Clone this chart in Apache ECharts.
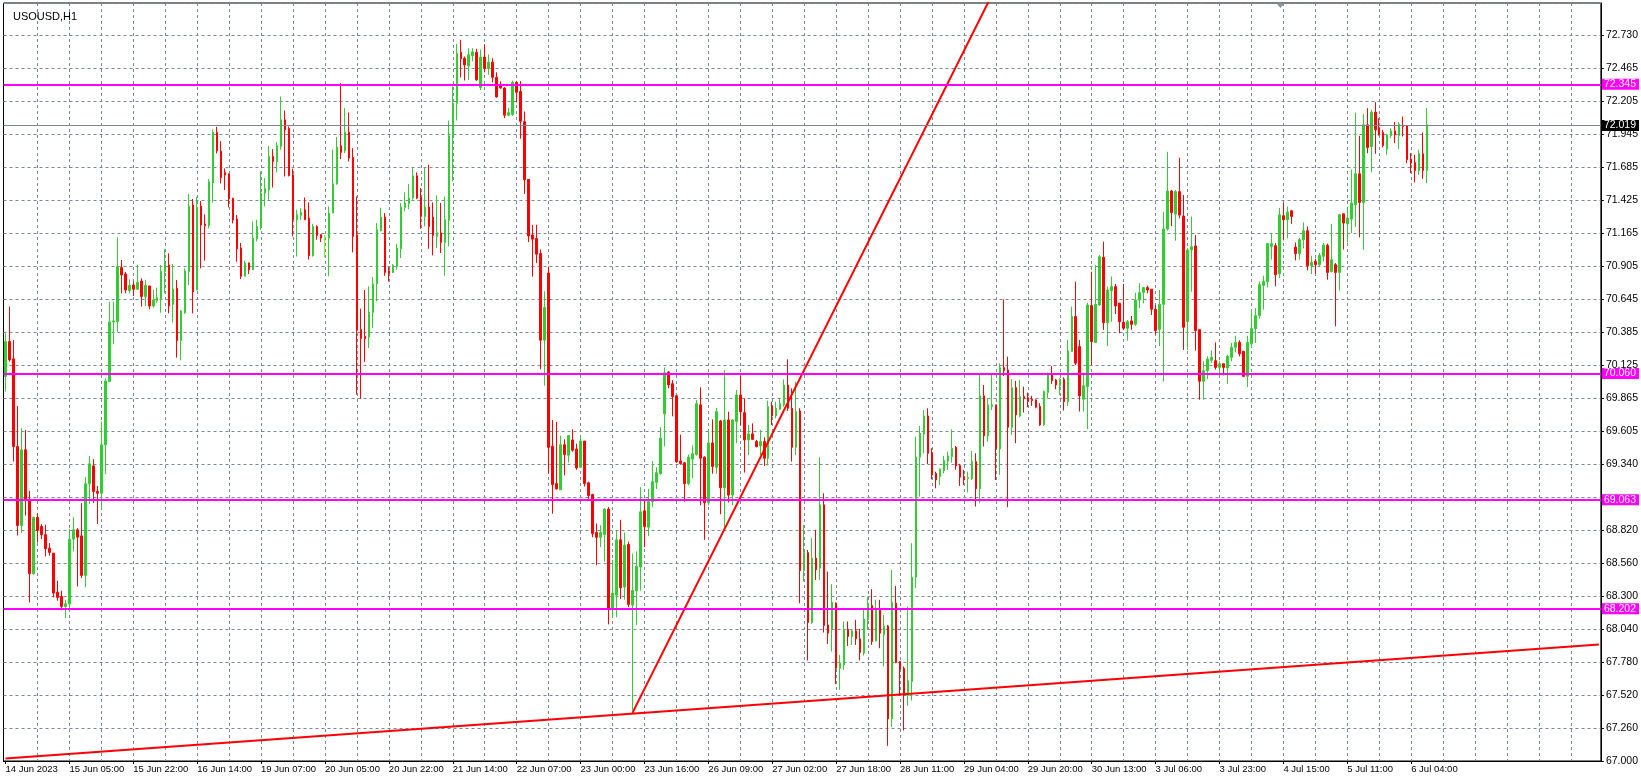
<!DOCTYPE html>
<html><head><meta charset="utf-8">
<script src="https://cdn.jsdelivr.net/npm/echarts@6/dist/echarts.min.js"></script>
<style>html,body{margin:0;padding:0;background:#fff}#c{width:1641px;height:781px}</style>
</head><body><div id="c"></div>
<script>
// ---- data ----
const timeLabels = ['14 Jun 2023','15 Jun 05:00','15 Jun 22:00','16 Jun 14:00','19 Jun 07:00','20 Jun 05:00','20 Jun 22:00','21 Jun 14:00','22 Jun 07:00','23 Jun 00:00','23 Jun 16:00','26 Jun 09:00','27 Jun 02:00','27 Jun 18:00','28 Jun 11:00','29 Jun 04:00','29 Jun 20:00','30 Jun 13:00','3 Jul 06:00','3 Jul 23:00','4 Jul 15:00','5 Jul 11:00','6 Jul 04:00'];
const yTickLabels = ['67.000','67.260','67.520','67.780','68.040','68.300','68.560','68.820','69.080','69.340','69.605','69.865','70.125','70.385','70.645','70.905','71.165','71.425','71.685','71.945','72.205','72.465','72.730'];

const opens = [70.036,70.313,70.176,69.484,68.860,69.458,69.063,68.479,68.923,68.852,
68.787,68.681,68.642,68.334,68.300,68.221,68.242,68.752,68.826,68.778,
68.466,69.189,69.331,69.129,69.115,69.497,69.997,70.468,70.470,70.897,
70.847,70.715,70.760,70.726,70.791,70.668,70.752,70.594,70.636,70.652,
70.865,70.918,70.607,70.734,70.320,70.541,70.865,71.391,70.720,71.383,
71.241,71.228,71.567,71.965,71.817,71.649,71.636,71.444,71.281,71.051,
70.828,70.933,70.880,71.125,71.214,71.486,71.512,71.775,71.735,71.854,
72.064,71.996,71.630,71.275,71.310,71.354,71.288,70.991,71.222,71.157,
71.133,71.130,71.328,71.559,71.859,71.820,71.967,71.767,71.157,70.407,
70.354,70.349,70.544,70.770,71.188,71.296,70.872,70.859,70.907,71.046,
71.372,71.404,71.446,71.622,71.454,71.301,71.375,71.296,71.144,71.170,
71.096,71.270,71.938,72.196,72.598,72.551,72.490,72.572,72.598,72.320,
72.560,72.470,72.520,72.400,72.345,72.316,72.101,72.107,72.359,72.288,
72.050,71.594,71.155,71.127,71.009,70.324,70.854,69.487,69.191,69.142,
69.498,69.415,69.535,69.464,69.320,69.527,69.197,69.105,68.804,68.767,
68.790,68.990,68.202,68.310,68.747,68.374,68.710,68.231,68.346,68.532,
68.976,68.847,69.048,69.200,69.269,69.742,70.072,69.980,69.885,69.369,
69.355,69.191,69.384,69.421,69.813,69.400,69.042,69.512,69.320,69.686,
69.159,69.694,69.100,69.680,69.891,69.751,69.536,69.583,69.523,69.488,
69.523,69.391,69.804,69.725,69.778,69.812,69.970,69.786,69.478,69.765,
68.504,68.646,68.094,68.602,68.523,69.023,68.075,68.041,68.246,67.733,
67.760,68.041,67.983,68.028,67.965,67.852,68.115,68.228,67.949,68.199,
67.996,68.067,67.333,68.246,67.786,67.733,67.518,67.628,68.452,69.399,
69.583,69.725,69.436,69.272,69.246,69.294,69.368,69.404,69.478,69.334,
69.247,69.230,69.230,69.365,69.150,69.884,69.568,69.800,69.813,69.465,
70.107,70.089,69.636,69.949,69.726,69.878,69.870,69.857,69.852,69.800,
69.655,69.910,70.057,70.010,69.963,70.015,69.839,70.234,70.510,70.273,
69.858,69.957,70.597,70.305,70.602,70.978,70.462,70.715,70.747,70.615,
70.465,70.418,70.476,70.449,70.641,70.702,70.739,70.726,70.568,70.410,
70.607,71.202,71.502,71.320,71.497,71.304,70.470,71.036,71.068,70.407,
69.999,70.083,70.165,70.162,70.109,70.138,70.104,70.188,70.267,70.307,
70.236,70.038,70.296,70.415,70.517,70.757,70.786,71.065,71.070,70.849,
71.307,71.275,71.346,71.059,71.007,71.117,71.188,70.912,70.946,70.920,
70.986,71.073,70.867,70.920,70.859,71.322,71.243,71.280,71.394,71.638,
71.412,72.025,71.854,72.125,72.004,71.964,71.833,71.940,71.977,71.940,
72.020,72.017,71.754,71.728,71.664,71.796,71.664];

const highs = [70.378,70.589,70.326,69.805,69.629,69.615,69.134,68.931,68.958,68.871,
68.866,68.721,68.642,68.423,68.345,68.273,68.831,68.926,68.839,69.037,
69.242,69.410,69.384,69.173,69.681,70.023,70.628,70.628,71.136,70.957,
70.862,70.804,70.786,70.918,70.812,70.799,70.752,70.720,70.739,70.918,
71.041,71.010,70.926,70.799,70.562,70.891,71.478,71.439,71.457,71.423,
71.318,71.596,71.988,72.009,71.896,71.680,71.641,71.449,71.312,71.091,
70.951,70.938,71.262,71.275,71.657,71.604,71.859,71.833,71.888,72.249,
72.138,72.012,71.678,71.354,71.367,71.451,71.412,71.243,71.230,71.162,
71.157,71.380,71.828,71.928,72.354,72.156,72.122,71.840,71.459,70.573,
70.720,70.749,70.822,71.249,71.370,71.328,70.901,70.925,71.085,71.407,
71.491,71.557,71.683,71.649,71.525,71.683,71.709,71.412,71.467,71.407,
71.459,72.059,72.328,72.664,72.696,72.564,72.630,72.630,72.625,72.620,
72.660,72.580,72.550,72.440,72.368,72.322,72.159,72.374,72.370,72.370,
72.130,71.594,71.235,71.235,71.040,70.711,70.906,69.693,69.679,69.570,
69.541,69.570,69.621,69.507,69.564,69.527,69.206,69.111,68.876,68.862,
68.996,69.005,68.589,68.819,68.905,68.804,68.733,68.638,68.655,69.163,
69.062,69.148,69.369,69.320,69.636,70.109,70.080,70.008,69.885,69.578,
69.363,69.420,69.492,69.850,69.951,69.406,69.621,69.699,69.788,69.694,
70.088,69.759,69.700,69.930,70.041,69.865,69.654,69.667,69.536,69.615,
69.557,69.846,69.838,69.838,69.865,70.014,70.172,69.943,69.996,69.786,
68.865,68.667,68.760,68.825,69.399,69.115,68.496,68.396,68.252,67.838,
68.102,68.102,68.036,68.115,68.044,68.207,68.294,68.357,68.273,68.273,
68.154,68.075,68.510,68.383,67.786,67.747,68.220,68.720,69.562,69.646,
69.772,69.786,69.470,69.285,69.312,69.410,69.444,69.620,69.488,69.347,
69.300,69.286,69.450,69.431,70.049,69.970,69.865,70.062,69.813,70.141,
70.647,70.194,70.015,70.002,70.010,69.957,69.910,69.884,69.857,69.826,
69.926,70.068,70.120,70.018,70.023,70.031,70.326,70.589,70.786,70.326,
70.062,70.620,70.865,70.918,70.997,71.102,70.747,70.826,70.768,70.620,
70.768,70.483,70.515,70.699,70.773,70.742,70.755,70.726,70.602,70.720,
71.339,71.812,71.510,71.510,71.765,71.470,71.050,71.300,71.154,70.407,
70.157,70.196,70.243,70.307,70.157,70.138,70.209,70.302,70.359,70.323,
70.236,70.359,70.559,70.577,70.788,70.833,71.091,71.170,71.091,71.367,
71.407,71.380,71.346,71.096,71.130,71.254,71.222,70.991,70.967,71.012,
71.091,71.086,71.243,70.933,71.322,71.322,71.375,71.670,72.122,71.938,
72.112,72.156,72.143,72.204,72.077,71.985,71.951,71.998,72.046,72.046,
72.090,72.017,71.801,71.788,71.828,71.964,72.156];

const lows = [69.918,70.155,69.365,68.781,68.800,68.939,68.253,68.471,68.726,68.753,
68.616,68.621,68.292,68.266,68.190,68.129,68.195,68.655,68.379,68.445,
68.373,69.031,69.037,68.873,68.992,69.265,69.997,70.292,70.391,70.694,
70.694,70.694,70.673,70.720,70.589,70.594,70.568,70.581,70.620,70.541,
70.694,70.536,70.462,70.186,70.165,70.531,70.760,70.536,70.720,70.891,
70.952,71.207,71.410,71.799,71.562,71.510,71.373,71.246,70.944,70.807,
70.828,70.846,70.880,71.104,71.196,71.380,71.433,71.530,71.649,71.828,
71.617,71.617,71.144,70.985,71.275,71.275,70.960,70.985,71.117,71.099,
70.978,70.828,71.328,71.551,71.754,71.801,71.735,71.017,69.894,69.860,
70.152,70.262,70.420,70.630,71.183,70.833,70.788,70.854,70.880,70.972,
71.341,71.359,71.433,71.438,71.204,71.222,71.046,70.994,71.051,71.012,
70.833,71.064,71.578,72.059,72.399,72.375,72.380,72.525,72.372,72.300,
72.440,72.420,72.360,72.240,72.310,72.078,72.093,72.096,72.202,71.915,
71.479,71.098,70.826,70.934,70.094,69.965,69.269,68.953,69.148,69.142,
69.257,69.358,69.443,69.300,69.315,69.168,69.071,68.767,68.546,68.690,
68.575,68.079,68.130,68.136,68.280,68.274,68.216,67.400,68.073,68.346,
68.690,68.776,69.005,69.148,69.263,69.484,69.945,69.722,69.355,69.340,
69.048,69.177,69.234,69.412,69.020,68.747,69.020,69.269,69.269,68.949,
68.817,69.042,69.021,69.509,69.654,69.278,69.417,69.536,69.478,69.417,
69.330,69.335,69.654,69.707,69.772,69.799,69.765,69.365,69.417,68.246,
68.418,67.794,68.083,68.430,68.430,68.015,67.925,67.865,67.607,67.562,
67.720,67.909,67.917,67.917,67.794,67.833,68.036,67.917,67.944,67.891,
67.747,67.120,67.268,67.773,67.528,67.241,67.436,67.478,68.365,69.088,
69.430,69.346,69.225,69.154,69.180,69.272,69.300,69.357,69.300,69.173,
69.181,69.120,69.220,69.010,69.036,69.484,69.523,69.773,69.220,69.260,
70.040,69.005,69.576,69.510,69.715,69.752,69.794,69.805,69.786,69.647,
69.647,69.865,69.978,69.936,69.892,69.768,69.805,70.234,70.128,69.760,
69.760,69.620,70.128,70.300,70.594,70.405,70.278,70.470,70.530,70.378,
70.405,70.320,70.405,70.436,70.576,70.615,70.694,70.523,70.365,70.278,
69.997,71.189,71.225,71.110,71.286,70.247,70.247,70.707,70.241,69.854,
69.854,70.017,70.144,70.091,70.065,70.046,69.980,70.157,70.228,70.196,
70.033,69.954,70.275,70.302,70.494,70.565,70.741,70.960,70.749,70.815,
71.112,71.128,71.243,70.954,70.960,71.049,70.875,70.846,70.849,70.907,
70.946,70.801,70.859,70.433,70.715,71.040,71.096,71.170,71.217,71.136,
71.038,71.801,71.649,71.796,71.940,71.846,71.788,71.920,71.880,71.833,
71.933,71.722,71.643,71.570,71.630,71.599,71.564];

const closes = [70.313,70.168,69.484,68.860,69.458,69.063,68.479,68.923,68.821,68.787,
68.676,68.647,68.326,68.292,68.221,68.242,68.752,68.826,68.768,68.466,
69.189,69.347,69.129,69.115,69.497,70.002,70.468,70.476,70.905,70.839,
70.720,70.757,70.726,70.781,70.668,70.755,70.594,70.641,70.660,70.870,
70.923,70.594,70.728,70.320,70.555,70.870,71.383,70.707,71.373,71.233,
71.228,71.575,71.965,71.820,71.607,71.628,71.439,71.273,71.044,70.828,
70.933,70.880,71.130,71.222,71.486,71.520,71.775,71.735,71.859,72.064,
71.985,71.625,71.275,71.315,71.333,71.275,70.991,71.222,71.151,71.130,
71.133,71.328,71.559,71.849,71.807,71.967,71.762,71.143,70.402,70.338,
70.336,70.546,70.767,71.196,71.296,70.859,70.854,70.912,71.051,71.375,
71.407,71.446,71.622,71.446,71.301,71.375,71.222,71.151,71.172,71.096,
71.275,71.938,72.196,72.590,72.546,72.498,72.578,72.601,72.380,72.560,
72.470,72.520,72.400,72.245,72.316,72.101,72.121,72.359,72.282,72.053,
71.591,71.147,71.121,71.003,70.324,70.582,69.478,69.183,69.148,69.498,
69.421,69.570,69.455,69.315,69.527,69.191,69.097,68.796,68.767,68.804,
68.990,68.202,68.325,68.747,68.368,68.704,68.237,68.346,68.538,68.968,
68.853,69.048,69.206,69.277,69.550,70.066,69.971,69.879,69.363,69.349,
69.191,69.400,69.427,69.822,69.392,69.040,69.512,69.326,69.759,69.159,
69.694,69.100,69.694,69.891,69.759,69.536,69.583,69.541,69.483,69.523,
69.391,69.799,69.725,69.786,69.825,69.970,69.786,69.478,69.759,68.504,
68.646,68.094,68.602,68.510,69.023,68.070,68.010,68.254,67.733,67.773,
68.036,67.983,68.028,67.965,67.857,68.120,68.228,67.944,68.199,68.010,
68.067,67.333,68.254,67.778,67.726,67.523,67.633,68.452,69.399,69.588,
69.725,69.430,69.259,69.220,69.304,69.373,69.410,69.470,69.330,69.242,
69.221,69.240,69.365,69.150,69.884,69.568,69.813,69.813,69.465,70.107,
70.084,69.636,69.949,69.734,69.878,69.865,69.840,69.847,69.794,69.655,
69.918,70.057,70.005,69.970,70.015,69.839,70.239,70.510,70.142,69.884,
69.963,70.602,70.312,70.607,70.983,70.462,70.720,70.747,70.594,70.470,
70.418,70.470,70.449,70.641,70.699,70.739,70.720,70.568,70.400,70.607,
71.202,71.502,71.331,71.497,71.312,70.426,71.036,71.062,70.400,69.999,
70.083,70.175,70.188,70.109,70.138,70.109,70.196,70.267,70.307,70.217,
70.038,70.307,70.415,70.517,70.762,70.788,71.086,71.086,70.841,71.314,
71.275,71.336,71.301,71.007,71.117,71.188,70.912,70.938,70.920,70.994,
71.075,70.859,70.959,70.859,71.314,71.249,71.288,71.407,71.638,71.412,
72.025,71.846,72.125,71.985,71.951,71.862,71.946,71.977,71.946,72.030,
72.012,71.749,71.722,71.664,71.796,71.664,72.025];

const levelLines = [72.345, 70.060, 69.063, 68.202];
const bidPrice = 72.019;
const supportLine = [[0, 67.02], [399, 67.92]];
const steepLine = [[157, 67.38], [250, 73.239]];

// ---- layout constants ----
const SLOTS = 400;
const Y_MIN = 67.0, Y_MAX = 72.987, Y_STEP = 0.26045;
const FONT = "'Liberation Sans Narrow','Liberation Sans',Arial,sans-serif";
const GRID_COLOR = '#778899';

const slots = Array.from({length: SLOTS}, (_, i) => String(i));
const candles = opens.map((o, i) => [o, closes[i], lows[i], highs[i]]);

const chart = echarts.init(document.getElementById('c'), null, {renderer: 'canvas'});
chart.setOption({
  animation: false,
  backgroundColor: '#ffffff',
  title: {
    text: 'USOUSD,H1', left: 8, top: 6,
    textStyle: {fontFamily: FONT, fontSize: 11, fontWeight: 'normal', color: '#000'}
  },
  grid: {left: 3.5, top: 3, width: 1600, height: 758, show: true, borderColor: '#000', borderWidth: 1, backgroundColor: '#fff'},
  xAxis: {
    type: 'category', data: slots, boundaryGap: true,
    axisLine: {show: true, lineStyle: {color: '#000', width: 1}},
    axisTick: {show: true, alignWithLabel: true, length: 3, lineStyle: {color: '#000'},
      interval: (i) => i % 16 === 0 && i / 16 < timeLabels.length},
    axisLabel: {
      interval: (i) => i % 16 === 0 && i / 16 < timeLabels.length,
      formatter: (v, idx) => timeLabels[Math.round(idx / 16)] || '',
      align: 'left', margin: 3, fontFamily: FONT, fontSize: 9.5, color: '#000'
    },
    splitLine: {show: true, alignWithLabel: true, interval: (i) => i > 0 && i % 8 === 0,
      lineStyle: {color: GRID_COLOR, type: [3, 3], width: 1}}
  },
  yAxis: {
    type: 'value', position: 'right', min: Y_MIN, max: Y_MAX, interval: Y_STEP,
    axisLine: {show: true, lineStyle: {color: '#000', width: 1}},
    axisTick: {show: true, length: 3, lineStyle: {color: '#000'}},
    axisLabel: {
      margin: 5, fontFamily: FONT, fontSize: 10.5, color: '#000', showMaxLabel: false,
      formatter: (v) => {
        const k = Math.round((v - Y_MIN) / Y_STEP);
        if (Math.abs(Y_MIN + k * Y_STEP - v) > 0.002) return '';
        // the terminal hides a scale label that sits under a level-line tag
        if (levelLines.some(l => Math.abs(l - v) < 0.03)) return '';
        return yTickLabels[k] || '';
      }
    },
    splitLine: {show: true, lineStyle: {color: GRID_COLOR, type: [3, 3], width: 1}}
  },
  series: [
    {
      type: 'candlestick', data: candles, barWidth: 2, clip: false, z: 2,
      itemStyle: {color: '#32CD32', color0: '#FF0000', borderColor: '#32CD32', borderColor0: '#FF0000', borderColorDoji: '#7FFF00', borderWidth: 1},
      markLine: {
        symbol: ['none', 'none'], silent: true, animation: false, precision: 3,
        label: {show: true, position: 'end', distance: 1, fontFamily: FONT, fontSize: 10.5, lineHeight: 11,
          padding: [0, 3, 0, 2], color: '#fff',
          formatter: (p) => Number(p.data && p.data.yAxis != null ? p.data.yAxis : p.value).toFixed(3)},
        data: levelLines.map(v => ({yAxis: v, lineStyle: {color: '#FF00FF', width: 2, type: 'solid'},
            label: {backgroundColor: '#FF00FF'}}))
          .concat([{yAxis: bidPrice, lineStyle: {color: '#7a8591', width: 1, type: 'solid'},
            label: {backgroundColor: '#000'}}])
      }
    },
    {type: 'line', data: supportLine, symbol: 'none', z: 3, silent: true,
      lineStyle: {color: '#FF0000', width: 2}},
    {type: 'line', data: steepLine, symbol: 'none', z: 3, silent: true, clip: true,
      lineStyle: {color: '#FF0000', width: 2}}
  ],
  graphic: [{
    type: 'polygon', silent: true,
    shape: {points: [[1276, 3], [1285, 3], [1280.5, 8]]},
    style: {fill: '#8c96a0'}
  }]
});
</script></body></html>
